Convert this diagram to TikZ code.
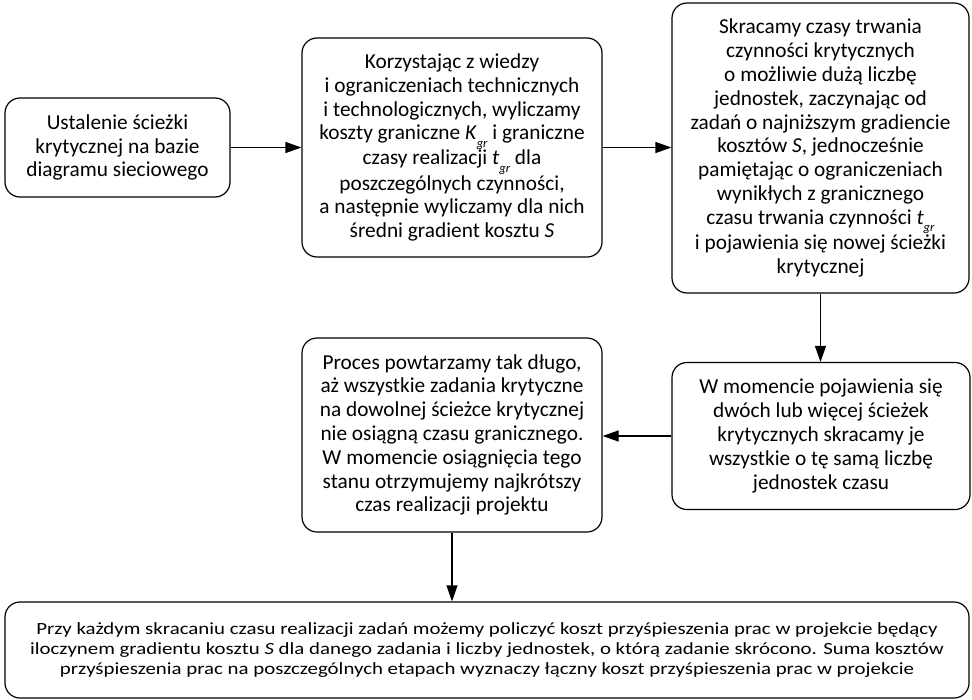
\documentclass[tikz,border=0pt]{standalone}
\usepackage{fontspec}
\setmainfont{Carlito}
\newfontfamily\widefont[FakeStretch=1.22]{Carlito}
\usetikzlibrary{arrows.meta}
\newcommand\idx[1]{\raisebox{-0.7ex}{\fontsize{12.5}{12.5}\selectfont\textit{#1}}}

\begin{document}
\begin{tikzpicture}[x=1pt, y=-1pt,
      box/.style={draw, rounded corners=15pt, line width=1.2pt, align=center, inner sep=0pt, font=\fontsize{21.3}{23.8}\selectfont},
      arr/.style={-{Triangle[length=16pt, width=11pt]}, line width=1.2pt}]
    \useasboundingbox (0,0) rectangle (972,699);
    \node[box, minimum width=225pt, minimum height=99pt] (ustal) at (117.5,147.5)
      {Ustalenie ścieżki\\krytycznej na bazie\\diagramu sieciowego};
    \node[box, minimum width=300pt, minimum height=219pt] (koszty) at (452,147.5)
      {Korzystając z wiedzy\\i ograniczeniach technicznych\\i technologicznych, wyliczamy\\koszty graniczne \textit{K}\idx{gr} i graniczne\\czasy realizacji \textit{t}\idx{gr} dla\\poszczególnych czynności,\\a następnie wyliczamy dla nich\\średni gradient kosztu \textit{S}};
    \node[box, minimum width=297pt, minimum height=290pt] (skrac) at (820.5,148)
      {Skracamy czasy trwania\\czynności krytycznych\\o możliwie dużą liczbę\\jednostek, zaczynając od\\zadań o najniższym gradiencie\\kosztów \textit{S}, jednocześnie\\pamiętając o ograniczeniach\\wynikłych z granicznego\\czasu trwania czynności \textit{t}\idx{gr}\\i pojawienia się nowej ścieżki\\krytycznej};
    \node[box, minimum width=298pt, minimum height=147pt] (wiele) at (821,436)
      {W momencie pojawienia się\\dwóch lub więcej ścieżek\\krytycznych skracamy je\\wszystkie o tę samą liczbę\\jednostek czasu};
    \node[box, minimum width=300pt, minimum height=194pt] (powt) at (452,435)
      {Proces powtarzamy tak długo,\\aż wszystkie zadania krytyczne\\na dowolnej ścieżce krytycznej\\nie osiągną czasu granicznego.\\W momencie osiągnięcia tego\\stanu otrzymujemy najkrótszy\\czas realizacji projektu};
    \node[box, minimum width=964pt, minimum height=96pt, font=\widefont\fontsize{17.1}{20}\selectfont] (suma) at (487,650)
      {Przy każdym skracaniu czasu realizacji zadań możemy policzyć koszt przyśpieszenia prac w projekcie będący\\iloczynem gradientu kosztu \textit{S} dla danego zadania i liczby jednostek, o którą zadanie skrócono. Suma kosztów\\przyśpieszenia prac na poszczególnych etapach wyznaczy łączny koszt przyśpieszenia prac w projekcie};
    % polaczenia
    \draw[arr] (ustal.east) -- (ustal.east -| koszty.west);
    \draw[arr] (koszty.east) -- (koszty.east -| skrac.west);
    \draw[arr] (skrac.south) -- (skrac.south |- wiele.north);
    \draw[arr] (wiele.west) -- (wiele.west -| powt.east);
    \draw[arr] (powt.south) -- (powt.south |- suma.north);
  \end{tikzpicture}
\end{document}
